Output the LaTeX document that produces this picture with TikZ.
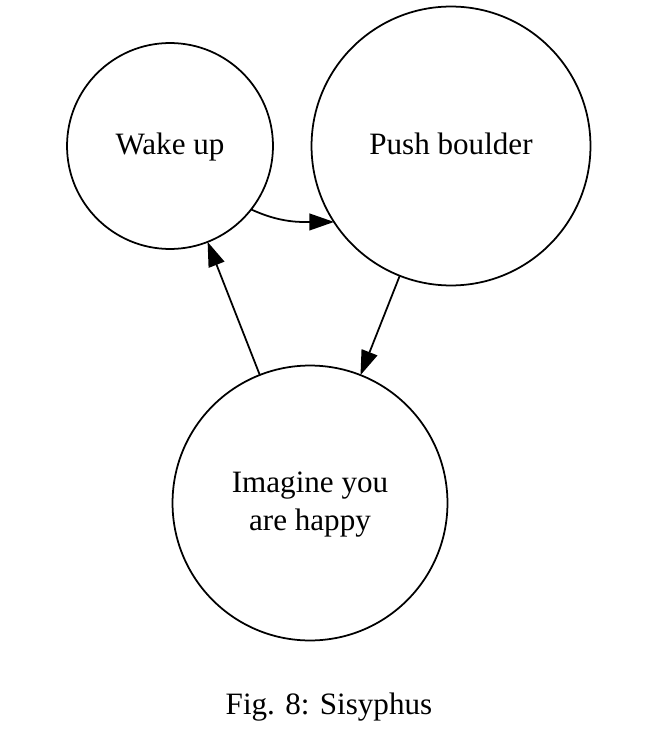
\documentclass[tikz,border=0pt]{standalone}
\usepackage{fontspec}
\setmainfont{Liberation Serif}
\usetikzlibrary{arrows.meta}

\begin{document}
\begin{tikzpicture}[x=0.02cm, y=-0.02cm,
                       main node/.style={circle,draw,line width=1pt,outer sep=0pt,
                                         inner sep=0pt,align=center,
                                         font=\fontsize{17.7}{21.5}\selectfont},
                       one line/.style={text height=14pt,text depth=4pt},
                       main edge/.style={line width=1pt,
                                         -{Triangle[length=14pt,width=9.5pt]}}
                      ]
   \useasboundingbox (0,0) rectangle (651,733);
   \node[main node,one line,minimum size=4.12cm] (wake) at (170,146) {Wake up};
   \node[main node,one line,minimum size=5.58cm] (push) at (451,146) {Push boulder};
   \node[main node,text height=35.4pt,text depth=3.8pt,minimum size=5.5cm] (imagine)
         at (310,503) {Imagine you\\are happy};
   \node[font=\fontsize{17.7}{21.5}\selectfont,one line,
         inner sep=0pt] (caption) at (329,706) {Fig. 8: Sisyphus};
   \draw[main edge] (wake.-38) to[out=-25,in=180] (push.-147);
   \draw[main edge] (push) -- (imagine);
   \draw[main edge] (imagine) -- (wake);
 \end{tikzpicture}
\end{document}
